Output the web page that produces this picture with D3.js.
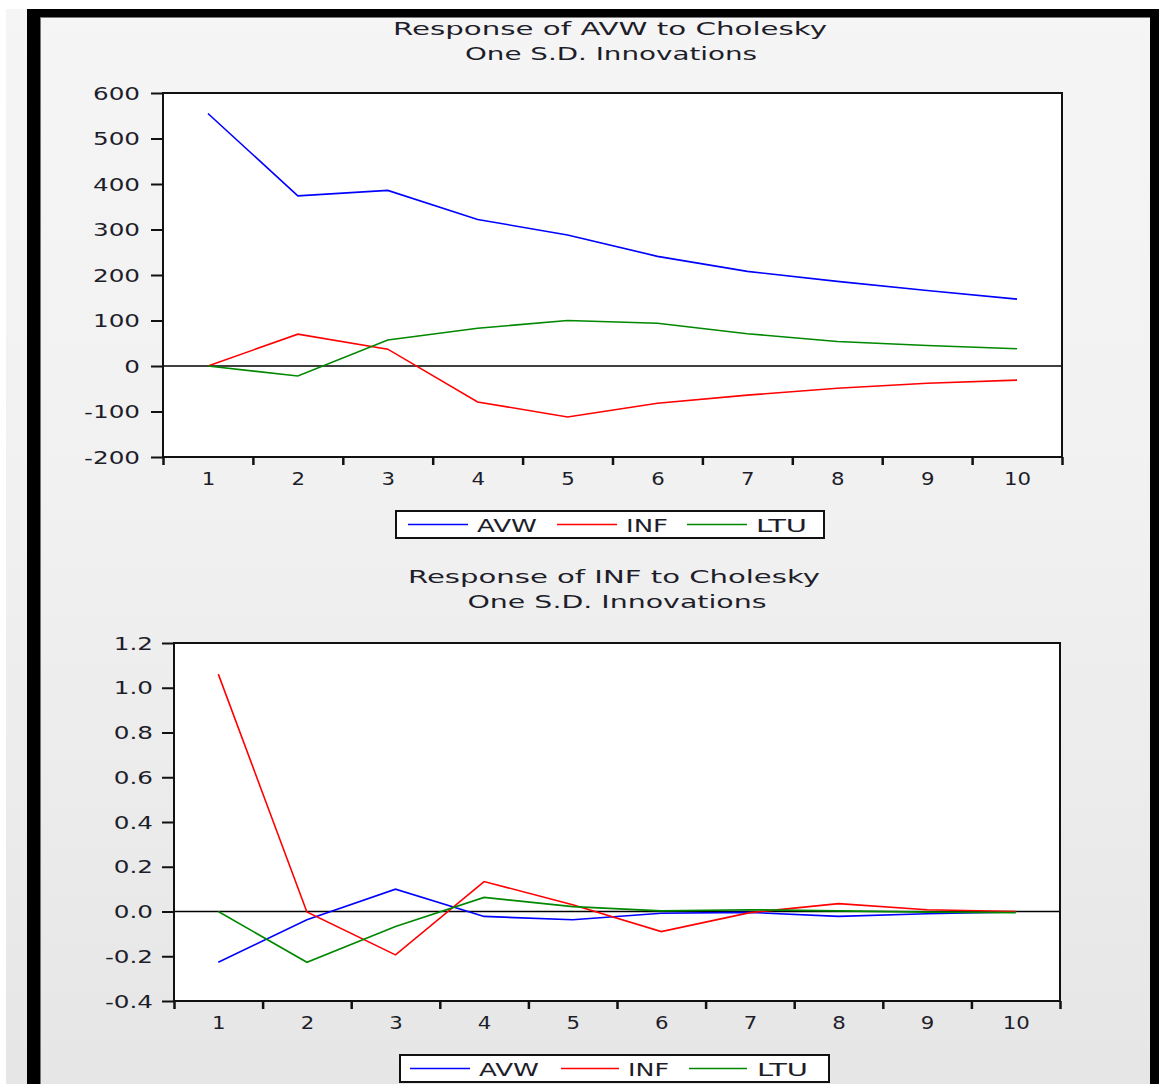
<!DOCTYPE html>
<html>
<head>
<meta charset="utf-8">
<script src="https://cdn.jsdelivr.net/npm/d3@7"></script>
<style>
  html, body { margin: 0; padding: 0; background: #ffffff; }
  svg { display: block; }
  text { font-family: "DejaVu Sans", sans-serif; fill: #1e1e2a; }
</style>
</head>
<body>
<svg id="chart" width="1159" height="1084"></svg>
<script>
// ---------------- data ----------------
const periods = [1, 2, 3, 4, 5, 6, 7, 8, 9, 10];
const seriesNames = ["AVW", "INF", "LTU"];
const seriesColors = ["#0000ff", "#ff0000", "#008800"];

// Response of AVW
const avwToAvw = [555, 374, 386, 322, 288, 241, 208, 186, 166, 147];
const avwToInf = [0, 70, 37, -79, -112, -82, -64, -49, -38, -31];
const avwToLtu = [0, -22, 57, 83, 100, 94, 71, 54, 45, 38];
const avwTicks = [-200, -100, 0, 100, 200, 300, 400, 500, 600];

// Response of INF
const infToAvw = [-0.227, -0.037, 0.100, -0.022, -0.037, -0.008, -0.004, -0.022, -0.010, -0.002];
const infToInf = [1.061, -0.002, -0.194, 0.134, 0.030, -0.090, -0.005, 0.035, 0.008, 0.000];
const infToLtu = [0.000, -0.227, -0.067, 0.063, 0.022, 0.003, 0.008, 0.003, -0.003, -0.005];
const infTicks = [-0.4, -0.2, 0.0, 0.2, 0.4, 0.6, 0.8, 1.0, 1.2];

const titleTop = ["Response of AVW to Cholesky", "One S.D. Innovations"];
const titleBottom = ["Response of INF to Cholesky", "One S.D. Innovations"];

// ---------------- helpers ----------------
const svg = d3.select("#chart");
const hyphen = f => (d => f(d).replace("\u2212", "-"));

// stretch text horizontally to a target width, positioned by anchor
function placeStretched(textSel, x, anchor, widthOrFactor, isFactor) {
  textSel.each(function () {
    const t = d3.select(this);
    t.attr("text-anchor", "start");
    const natural = this.getComputedTextLength();
    const w = isFactor ? natural * widthOrFactor : widthOrFactor;
    t.attr("textLength", w).attr("lengthAdjust", "spacingAndGlyphs");
    let x0 = x;
    if (anchor === "middle") x0 = x - w / 2;
    else if (anchor === "end") x0 = x - w;
    t.attr("x", x0);
  });
}

// ---------------- background & frame ----------------
const defs = svg.append("defs");
const grad = defs.append("linearGradient").attr("id", "bg").attr("x1", 0).attr("y1", 0).attr("x2", 0).attr("y2", 1);
grad.append("stop").attr("offset", "0%").attr("stop-color", "#f5f5f5");
grad.append("stop").attr("offset", "45%").attr("stop-color", "#f1f1f1");
grad.append("stop").attr("offset", "100%").attr("stop-color", "#e6e6e6");

svg.append("rect").attr("x", 6).attr("y", 9).attr("width", 1153).attr("height", 1075).attr("fill", "url(#bg)");
// black thick frame
svg.append("rect").attr("x", 27).attr("y", 9).attr("width", 1132).attr("height", 8).attr("fill", "#000");
svg.append("rect").attr("x", 27).attr("y", 9).attr("width", 13).attr("height", 1075).attr("fill", "#000");
svg.append("rect").attr("x", 1150).attr("y", 9).attr("width", 9).attr("height", 1075).attr("fill", "#000");
svg.append("line").attr("x1", 40.5).attr("x2", 40.5).attr("y1", 17).attr("y2", 1084).attr("stroke", "#777").attr("stroke-width", 1);
svg.append("line").attr("x1", 40).attr("x2", 1150).attr("y1", 17.5).attr("y2", 17.5).attr("stroke", "#777").attr("stroke-width", 1);

// ---------------- panel ----------------
function drawPanel(cfg) {
  const g = svg.append("g");
  const x = d3.scaleLinear().domain([0.5, 10.5]).range([cfg.left, cfg.right]);
  const y = d3.scaleLinear().domain(cfg.domain).range([cfg.bottom, cfg.top]);

  // titles
  cfg.title.forEach((s, i) => {
    const t = g.append("text").attr("y", cfg.titleY[i]).attr("font-size", 18).text(s);
    placeStretched(t, cfg.titleCx[i], "middle", cfg.titleW[i], false);
  });

  // plot area
  g.append("rect")
    .attr("x", cfg.left).attr("y", cfg.top)
    .attr("width", cfg.right - cfg.left).attr("height", cfg.bottom - cfg.top)
    .attr("fill", "#ffffff");

  // zero line
  g.append("line")
    .attr("x1", cfg.left).attr("x2", cfg.right)
    .attr("y1", y(0)).attr("y2", y(0))
    .attr("stroke", "#000").attr("stroke-width", 1.4);

  // series
  const line = d3.line().x((d, i) => x(periods[i])).y(d => y(d));
  cfg.series.forEach((vals, k) => {
    g.append("path").datum(vals)
      .attr("d", line)
      .attr("fill", "none")
      .attr("stroke", seriesColors[k])
      .attr("stroke-width", 1.6);
  });

  // frame
  g.append("rect")
    .attr("x", cfg.left).attr("y", cfg.top)
    .attr("width", cfg.right - cfg.left).attr("height", cfg.bottom - cfg.top)
    .attr("fill", "none").attr("stroke", "#111").attr("stroke-width", 2);

  // y axis
  const yAxis = d3.axisLeft(y).tickValues(cfg.ticks).tickSize(12).tickPadding(10)
    .tickFormat(cfg.fmt);
  const ya = g.append("g").attr("transform", `translate(${cfg.left},0)`).call(yAxis);
  ya.select(".domain").remove();
  ya.selectAll(".tick line").attr("stroke", "#111").attr("stroke-width", 2);
  ya.selectAll(".tick text").attr("font-size", 17).attr("fill", "#1e1e2a")
    .attr("font-family", "DejaVu Sans").attr("dy", "0.36em");
  ya.selectAll(".tick text").each(function () {
    placeStretched(d3.select(this), -cfg.yLabelGap, "end", 1.45, true);
  });

  // x axis: boundary ticks
  const bounds = d3.range(0.5, 11, 1);
  const xTickAxis = d3.axisBottom(x).tickValues(bounds).tickSize(8).tickFormat("");
  const xa = g.append("g").attr("transform", `translate(0,${cfg.bottom})`).call(xTickAxis);
  xa.select(".domain").attr("stroke", "#111").attr("stroke-width", 2);
  xa.selectAll(".tick line").attr("stroke", "#111").attr("stroke-width", 2.5);
  xa.select(".domain").attr("d", `M${cfg.left},0H${cfg.right}`);

  // x labels at band centers
  const xLabAxis = d3.axisBottom(x).tickValues(periods).tickSize(0).tickPadding(cfg.xLabelPad).tickFormat(d3.format("d"));
  const xl = g.append("g").attr("transform", `translate(0,${cfg.bottom})`).call(xLabAxis);
  xl.select(".domain").remove();
  xl.selectAll(".tick text").attr("font-size", 17).attr("fill", "#1e1e2a").attr("font-family", "DejaVu Sans");
  xl.selectAll(".tick text").each(function () {
    placeStretched(d3.select(this), 0, "middle", 1.25, true);
  });

  // legend
  const lg = g.append("g");
  lg.append("rect")
    .attr("x", cfg.legend.x).attr("y", cfg.legend.y)
    .attr("width", cfg.legend.w).attr("height", cfg.legend.h)
    .attr("fill", "#ffffff").attr("stroke", "#111").attr("stroke-width", 2);
  const cy = cfg.legend.y + cfg.legend.h / 2;
  seriesNames.forEach((name, k) => {
    const it = cfg.legend.items[k];
    lg.append("line").attr("x1", it[0]).attr("x2", it[1]).attr("y1", cy).attr("y2", cy)
      .attr("stroke", seriesColors[k]).attr("stroke-width", 1.6);
    const t = lg.append("text").attr("y", cy + 7).attr("font-size", 18).text(name);
    placeStretched(t, it[2], "start", it[3], false);
  });
}

drawPanel({
  left: 163, right: 1062, top: 93, bottom: 457,
  domain: [-200, 600], ticks: avwTicks, fmt: hyphen(d3.format("d")),
  series: [avwToAvw, avwToInf, avwToLtu],
  title: titleTop, titleY: [35, 60], titleCx: [610, 611], titleW: [434, 292],
  yLabelGap: 23, xLabelPad: 16,
  legend: { x: 396, y: 511, w: 428, h: 27,
    items: [[408, 468, 477, 60], [557, 617, 626, 42], [687, 747, 756, 51]] }
});

drawPanel({
  left: 174, right: 1060, top: 643, bottom: 1001,
  domain: [-0.4, 1.2], ticks: infTicks, fmt: hyphen(d3.format(".1f")),
  series: [infToAvw, infToInf, infToLtu],
  title: titleBottom, titleY: [583, 608], titleCx: [614, 617], titleW: [412, 299],
  yLabelGap: 21, xLabelPad: 16,
  legend: { x: 400, y: 1055, w: 429, h: 27,
    items: [[410, 470, 479, 60], [561, 619, 628, 41], [689, 747, 757, 51]] }
});
</script>
</body>
</html>
